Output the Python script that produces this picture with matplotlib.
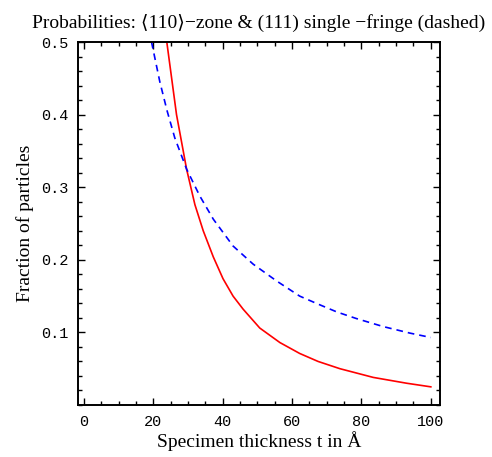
import matplotlib
matplotlib.use("Agg")
import matplotlib.pyplot as plt
from matplotlib.ticker import MultipleLocator

# zone-axis probability (solid red)
zone_t = [23.9, 26.7, 29.6, 32.0, 34.4, 37.3, 40.1, 43.0, 45.9, 50.7, 56.5, 62.2, 67.5, 73.8, 83.4, 93.0, 100.0]
zone_p = [0.5, 0.40, 0.325, 0.276, 0.240, 0.204, 0.174, 0.150, 0.132, 0.106, 0.086, 0.071, 0.060, 0.050, 0.038, 0.030, 0.025]

# single-fringe probability (dashed blue)
fringe_t = [19.5, 21.9, 24.0, 26.2, 29.6, 33.4, 37.3, 43.0, 48.8, 55.5, 62.2, 67.5, 73.0, 78.6, 86.3, 94.0, 100.0]
fringe_p = [0.5, 0.445, 0.405, 0.368, 0.325, 0.288, 0.256, 0.219, 0.194, 0.171, 0.150, 0.139, 0.128, 0.119, 0.108, 0.099, 0.093]

serif = "Liberation Serif"
mono = "Liberation Mono"

fig = plt.figure(figsize=(4.92, 4.57), dpi=100)
ax = fig.add_axes([0.1585, 0.1138, 0.7355, 0.7942])

ax.plot(zone_t, zone_p, color="#ff0000", lw=1.2)
ax.plot(fringe_t, fringe_p, color="#0000ff", lw=1.2, dashes=(4, 3))

ax.set_xlim(-1.7, 102.6)
ax.set_ylim(0, 0.5)

ax.xaxis.set_major_locator(MultipleLocator(20))
ax.xaxis.set_minor_locator(MultipleLocator(5))
ax.yaxis.set_minor_locator(MultipleLocator(0.02))
ax.set_yticks([0.1, 0.2, 0.3, 0.4, 0.5])
ax.set_yticklabels(["0.1", "0.2", "0.3", "0.4", "0.5"])

ax.tick_params(which="both", direction="in", top=True, right=True, width=1.0)
ax.tick_params(which="major", length=5, pad=7, labelsize=11)
ax.tick_params(which="minor", length=3)
for lab in ax.get_xticklabels() + ax.get_yticklabels():
    lab.set_family(mono)

for sp in ax.spines.values():
    sp.set_linewidth(1.4)

ax.set_title("Probabilities: \u27e8110\u27e9\u2212zone & (111) single \u2212fringe (dashed)",
             family=[serif, "DejaVu Sans"], fontsize=14, pad=10)
ax.set_xlabel("Specimen thickness t in \u00c5", family=serif, fontsize=14, labelpad=2)
ax.set_ylabel("Fraction of particles", family=serif, fontsize=14, labelpad=5)

fig.savefig("out.png", dpi=100)
